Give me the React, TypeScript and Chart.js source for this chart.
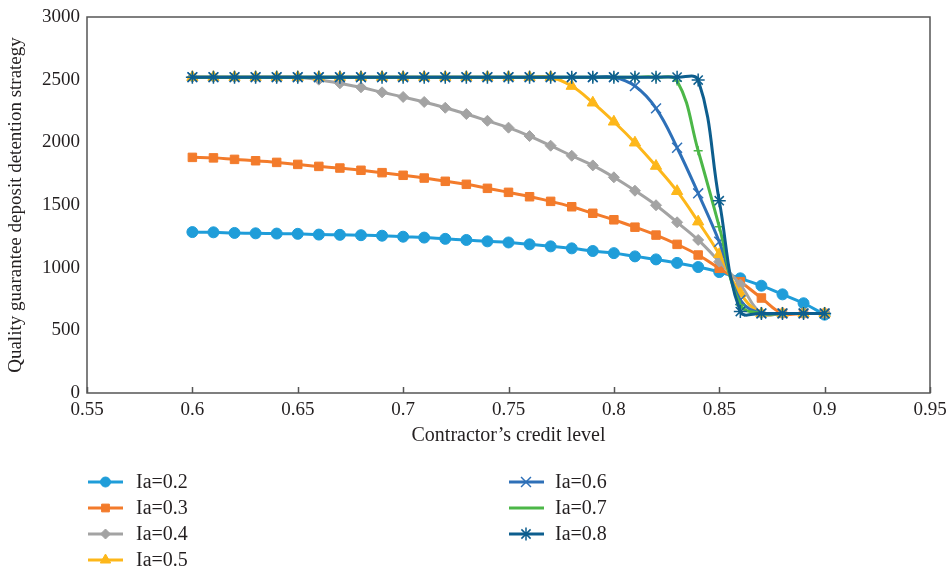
import React, { useEffect, useRef } from 'react';
import { Chart, registerables } from 'chart.js';
import { drawPoint } from 'chart.js/helpers';

Chart.register(...registerables);

const creditLevels = [
  0.6, 0.61, 0.62, 0.63, 0.64, 0.65, 0.66, 0.67, 0.68, 0.69, 0.7,
  0.71, 0.72, 0.73, 0.74, 0.75, 0.76, 0.77, 0.78, 0.79, 0.8,
  0.81, 0.82, 0.83, 0.84, 0.85, 0.86, 0.87, 0.88, 0.89, 0.9,
];

const ia02 = [1284, 1282, 1277, 1274, 1272, 1270, 1264, 1262, 1259, 1255, 1247, 1240, 1230, 1221, 1210, 1201, 1186, 1170, 1154, 1133, 1116, 1090, 1066, 1038, 1005, 965, 915, 856, 787, 716, 625];
const ia03 = [1880, 1876, 1864, 1853, 1840, 1824, 1808, 1795, 1777, 1758, 1737, 1715, 1689, 1665, 1633, 1601, 1566, 1529, 1486, 1434, 1382, 1323, 1260, 1186, 1101, 995, 888, 758, 635, 635, 635];
const ia04 = [2520, 2520, 2520, 2520, 2520, 2520, 2500, 2471, 2439, 2399, 2362, 2322, 2276, 2226, 2172, 2117, 2050, 1973, 1893, 1816, 1721, 1614, 1498, 1362, 1221, 1048, 865, 635, 635, 635, 635];
const ia05 = [2520, 2520, 2520, 2520, 2520, 2520, 2520, 2520, 2520, 2520, 2520, 2520, 2520, 2520, 2520, 2520, 2520, 2520, 2449, 2316, 2164, 1997, 1811, 1610, 1367, 1107, 795, 635, 635, 635, 635];
const ia06 = [2520, 2520, 2520, 2520, 2520, 2520, 2520, 2520, 2520, 2520, 2520, 2520, 2520, 2520, 2520, 2520, 2520, 2520, 2520, 2520, 2520, 2449, 2271, 1957, 1593, 1207, 742, 635, 635, 635, 635];
const ia07 = [2520, 2520, 2520, 2520, 2520, 2520, 2520, 2520, 2520, 2520, 2520, 2520, 2520, 2520, 2520, 2520, 2520, 2520, 2520, 2520, 2520, 2520, 2520, 2490, 1933, 1327, 702, 635, 635, 635, 635];
const ia08 = [2520, 2520, 2520, 2520, 2520, 2520, 2520, 2520, 2520, 2520, 2520, 2520, 2520, 2520, 2520, 2520, 2520, 2520, 2520, 2520, 2520, 2520, 2520, 2520, 2497, 1534, 650, 635, 635, 635, 635];

const seriesLabels = ['Ia=0.2', 'Ia=0.3', 'Ia=0.4', 'Ia=0.5', 'Ia=0.6', 'Ia=0.7', 'Ia=0.8'];
const seriesValues = [ia02, ia03, ia04, ia05, ia06, ia07, ia08];

const xTitle = 'Contractor\u2019s credit level';
const yTitle = 'Quality guarantee deposit detention strategy';

const FONT = "'Liberation Serif', 'DejaVu Serif', serif";
const TEXT = '#231f20';

const styles = [
  { color: '#1f9dd9', point: 'circle', radius: 5.5, legendRadius: 5, bw: 1 },
  { color: '#f37b2b', point: 'rect', radius: 6, legendRadius: 5.5, bw: 1 },
  { color: '#a3a3a3', point: 'rectRot', radius: 5.5, legendRadius: 5, bw: 1 },
  { color: '#fdb71a', point: 'triangle', radius: 6.5, legendRadius: 6, bw: 1 },
  { color: '#2e70b8', point: 'crossRot', radius: 7, legendRadius: 7, bw: 1.5 },
  { color: '#4cb748', point: 'cross', radius: 4.5, legendRadius: 0, bw: 1.5 },
  { color: '#0d5e8e', point: 'star', radius: 6.5, legendRadius: 6.5, bw: 1.5 },
];

const framePlugin = {
  id: 'frameTicks',
  beforeDatasetsDraw(chart: any) {
    const { ctx, chartArea, scales } = chart;
    const { left, right, top, bottom } = chartArea;
    ctx.save();
    ctx.strokeStyle = '#555555';
    ctx.lineWidth = 1.5;
    ctx.strokeRect(left, top, right - left, bottom - top);
    const xs = scales.x;
    xs.ticks.forEach((t: any) => {
      const px = Math.round(xs.getPixelForValue(t.value)) + 0.5;
      ctx.beginPath();
      ctx.moveTo(px, bottom);
      ctx.lineTo(px, bottom - 6);
      ctx.stroke();
    });
    ctx.restore();
  },
};

const legendPlugin = {
  id: 'customLegend',
  afterDraw(chart: any) {
    const { ctx } = chart;
    const cols = [
      { lineX: 88, markerX: 105.5, textX: 136 },
      { lineX: 509, markerX: 526, textX: 555 },
    ];
    const rowY = [482, 508, 534, 560];
    ctx.save();
    chart.data.datasets.forEach((ds: any, i: number) => {
      const col = cols[i < 4 ? 0 : 1];
      const y = rowY[i < 4 ? i : i - 4];
      const st = styles[i];
      ctx.strokeStyle = st.color;
      ctx.fillStyle = st.color;
      ctx.lineWidth = 3;
      ctx.beginPath();
      ctx.moveTo(col.lineX, y);
      ctx.lineTo(col.lineX + 35, y);
      ctx.stroke();
      if (st.legendRadius > 0) {
        ctx.lineWidth = st.bw;
        drawPoint(ctx, { pointStyle: st.point, rotation: 0, radius: st.legendRadius, borderWidth: st.bw } as any, col.markerX, y);
      }
      ctx.fillStyle = TEXT;
      ctx.font = `20px ${FONT}`;
      ctx.textAlign = 'left';
      ctx.textBaseline = 'middle';
      ctx.fillText(ds.label, col.textX, y + 1);
    });
    ctx.restore();
  },
};

export default function App() {
  const canvasRef = useRef<HTMLCanvasElement | null>(null);

  useEffect(() => {
    document.body.style.margin = '0';
    const canvas = canvasRef.current;
    if (!canvas) return;

    const datasets = seriesLabels.map((label, i) => {
      const st = styles[i];
      return {
        label,
        data: creditLevels.map((x, j) => ({ x, y: seriesValues[i][j] })),
        borderColor: st.color,
        backgroundColor: st.color,
        borderWidth: 3,
        tension: 0.4,
        pointStyle: st.point,
        pointRadius: st.radius,
        pointBorderWidth: st.bw,
        pointBackgroundColor: st.color,
        pointBorderColor: st.color,
        order: seriesLabels.length - i,
      };
    });

    const chart = new Chart(canvas, {
      type: 'line',
      data: { datasets } as any,
      options: {
        animation: false,
        responsive: true,
        maintainAspectRatio: false,
        layout: { padding: { top: 17, right: 18, left: 0, bottom: 121 } },
        plugins: {
          legend: { display: false },
          tooltip: { enabled: false },
        },
        scales: {
          x: {
            type: 'linear',
            min: 0.55,
            max: 0.95,
            grid: { display: false, drawTicks: false },
            border: { display: false },
            ticks: {
              stepSize: 0.05,
              padding: 6,
              color: TEXT,
              font: { family: FONT, size: 19 },
              maxRotation: 0,
              callback: (v: any) => String(Number(Number(v).toFixed(2))),
            },
            title: {
              display: true,
              text: xTitle,
              color: TEXT,
              font: { family: FONT, size: 20 },
            },
            afterFit: (s: any) => {
              s.height = 59;
              s.paddingLeft = 0;
              s.paddingRight = 0;
            },
          },
          y: {
            min: 0,
            max: 3000,
            grid: { display: false, drawTicks: false },
            border: { display: false },
            ticks: {
              stepSize: 500,
              padding: 7,
              color: TEXT,
              font: { family: FONT, size: 19 },
              callback: (v: any) => String(v),
            },
            title: {
              display: true,
              text: yTitle,
              color: TEXT,
              font: { family: FONT, size: 19 },
              padding: { top: 5, bottom: 4 },
            },
            afterFit: (s: any) => {
              s.width = 87;
              s.paddingTop = 0;
              s.paddingBottom = 0;
            },
          },
        },
      } as any,
      plugins: [framePlugin, legendPlugin],
    });

    return () => chart.destroy();
  }, []);

  return (
    <div style={{ position: 'relative', width: 948, height: 573 }}>
      <canvas ref={canvasRef} />
    </div>
  );
}
